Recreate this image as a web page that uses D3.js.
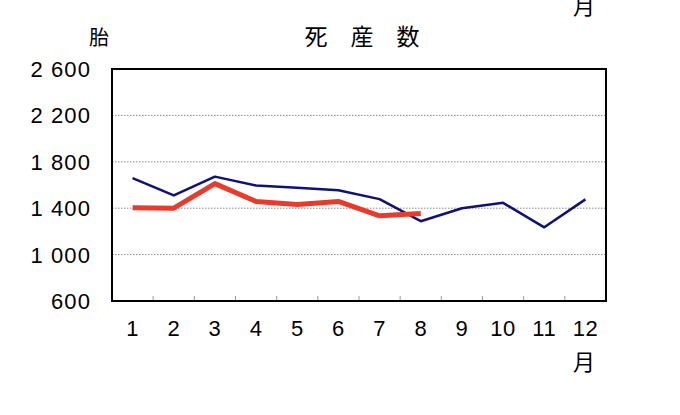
<!DOCTYPE html>
<html><head><meta charset="utf-8">
<script src="https://cdn.jsdelivr.net/npm/d3@7"></script>
<style>body{margin:0;background:#fff}svg{display:block}</style>
</head><body>
<svg id="c" width="680" height="415"></svg>
<script>
const months = ["1","2","3","4","5","6","7","8","9","10","11","12"];
const prevYear = [1660,1510,1672,1595,1577,1554,1478,1288,1400,1446,1235,1476];
const thisYear = [1403,1400,1612,1458,1432,1458,1334,1354];
const yTicks = [600,1000,1400,1800,2200,2600];
const yTickLabels = ["600","1 000","1 400","1 800","2 200","2 600"];
const title = "死　産　数";
const yUnit = "胎";
const xUnit = "月";

const svg = d3.select("#c");
const L=112, R=606, T=69, B=301;
const x = d3.scaleBand().domain(months).range([L,R]);
const y = d3.scaleLinear().domain([600,2600]).range([B,T]);
const numFont = "'Liberation Sans', Arial, sans-serif";
const cjkFont = "'Noto Sans CJK JP', sans-serif";

// gridlines
svg.append("g").selectAll("line").data(yTicks.filter(d=>d>600&&d<2600)).join("line")
  .attr("x1",L).attr("x2",R).attr("y1",d=>y(d)).attr("y2",d=>y(d))
  .attr("stroke","#888").attr("stroke-width",1).attr("stroke-dasharray","1.5,1.5");

// bottom inner ticks
svg.append("g").selectAll("line").data(months.slice(1)).join("line")
  .attr("x1",d=>x(d)).attr("x2",d=>x(d)).attr("y1",B).attr("y2",B-5)
  .attr("stroke","#999").attr("stroke-width",1);

// y labels
svg.append("g").selectAll("text").data(yTicks).join("text")
  .attr("x",91).attr("y",(d)=>y(d)).attr("dy","0.36em")
  .attr("text-anchor","end").attr("font-family",numFont).attr("font-size",22)
  .attr("letter-spacing","1.1")
  .text((d,i)=>yTickLabels[i]);

// x labels
svg.append("g").selectAll("text").data(months).join("text")
  .attr("x",d=>x(d)+x.bandwidth()/2).attr("y",336)
  .attr("text-anchor","middle").attr("font-family",numFont).attr("font-size",22)
  .attr("letter-spacing","0.5")
  .text(d=>d);

const line = d3.line().x((d,i)=>x(months[i])+x.bandwidth()/2).y(d=>y(d));
svg.append("path").datum(prevYear).attr("d",line).attr("fill","none")
  .attr("stroke","#10107a").attr("stroke-width",2.5).attr("stroke-linejoin","round");
svg.append("path").datum(thisYear).attr("d",line).attr("fill","none")
  .attr("stroke","#ea3a2c").attr("stroke-width",5).attr("stroke-linejoin","round");

// frame
svg.append("rect").attr("x",L).attr("y",T).attr("width",R-L).attr("height",B-T)
  .attr("fill","none").attr("stroke","#000").attr("stroke-width",2);

// texts
svg.append("text").attr("x",362).attr("y",45).attr("text-anchor","middle")
  .attr("font-family",cjkFont).attr("font-size",23).text(title);
svg.append("text").attr("x",99).attr("y",45).attr("text-anchor","middle")
  .attr("font-family",cjkFont).attr("font-size",20).text(yUnit);
svg.append("text").attr("x",584).attr("y",370).attr("text-anchor","middle")
  .attr("font-family",cjkFont).attr("font-size",22).text(xUnit);
svg.append("text").attr("x",584).attr("y",14).attr("text-anchor","middle")
  .attr("font-family",cjkFont).attr("font-size",22).text(xUnit);
</script>
</body></html>
